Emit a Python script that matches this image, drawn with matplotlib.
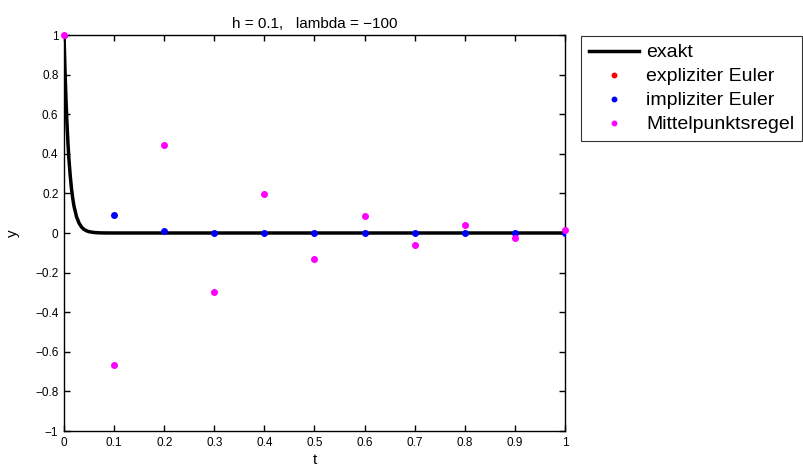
import matplotlib
matplotlib.use("Agg")
import matplotlib.pyplot as plt

plt.rcParams['font.family'] = ['Liberation Sans', 'DejaVu Sans']

# exact solution
t_exakt = [0.0, 0.002, 0.004, 0.006, 0.008, 0.01, 0.0125, 0.015, 0.0175, 0.02,
           0.025, 0.03, 0.035, 0.04, 0.045, 0.05, 0.06, 0.07, 0.08, 0.1, 0.2,
           0.4, 0.6, 0.8, 1.0]
y_exakt = [1.0, 0.819, 0.670, 0.549, 0.449, 0.368, 0.287, 0.223, 0.174, 0.135,
           0.082, 0.050, 0.030, 0.018, 0.011, 0.0067, 0.0025, 0.0009, 0.0003,
           0.0, 0.0, 0.0, 0.0, 0.0, 0.0]

t_pts = [0.0, 0.1, 0.2, 0.3, 0.4, 0.5, 0.6, 0.7, 0.8, 0.9, 1.0]
y_expl = [1.0, -9.0, 81.0, -729.0, 6561.0, -59049.0, 531441.0, -4782969.0,
          43046721.0, -387420489.0, 3486784401.0]
y_impl = [1.0, 0.091, 0.008, 0.001, 0.0001, 0.0, 0.0, 0.0, 0.0, 0.0, 0.0]
y_mitt = [1.0, -0.667, 0.444, -0.296, 0.198, -0.132, 0.088, -0.059, 0.039,
          -0.026, 0.017]

x_ticks = [0, 0.1, 0.2, 0.3, 0.4, 0.5, 0.6, 0.7, 0.8, 0.9, 1]
x_ticklabels = ['0', '0.1', '0.2', '0.3', '0.4', '0.5', '0.6', '0.7', '0.8', '0.9', '1']
y_ticks = [-1, -0.8, -0.6, -0.4, -0.2, 0, 0.2, 0.4, 0.6, 0.8, 1]
y_ticklabels = ['\u22121', '\u22120.8', '\u22120.6', '\u22120.4', '\u22120.2', '0',
                '0.2', '0.4', '0.6', '0.8', '1']

fig = plt.figure(figsize=(8.04, 4.69), dpi=100)
ax = fig.add_axes([64/804, 1 - 431/469, (565-64)/804, (431-35)/469])

ax.plot(t_exakt, y_exakt, color='black', linewidth=2.5, label='exakt', zorder=2)
ax.plot(t_pts, y_expl, linestyle='none', marker='o', markersize=4, color='red',
        label='expliziter Euler', zorder=3)
ax.plot(t_pts, y_impl, linestyle='none', marker='o', markersize=4, color='blue',
        label='impliziter Euler', zorder=4)
ax.plot(t_pts, y_mitt, linestyle='none', marker='o', markersize=4, color='magenta',
        label='Mittelpunktsregel', zorder=5, clip_on=False)

ax.set_xlim(0, 1)
ax.set_ylim(-1, 1)
ax.set_xticks(x_ticks)
ax.set_xticklabels(x_ticklabels)
ax.set_yticks(y_ticks)
ax.set_yticklabels(y_ticklabels)
ax.tick_params(direction='in', length=4, width=1, labelsize=8.5, top=True, right=True,
               pad=4)
for s in ax.spines.values():
    s.set_linewidth(1.0)

ax.set_xlabel('t', fontsize=11, labelpad=3)
ax.set_ylabel('y', fontsize=11, labelpad=11)
ax.set_title('h = 0.1,   lambda = \u2212100', fontsize=11, pad=5)

leg = fig.legend(loc='upper left', bbox_to_anchor=(581/804, 1 - 36/469),
                 fontsize=14, frameon=True, fancybox=False, edgecolor='black',
                 borderpad=0.4, labelspacing=0.33, handlelength=2.6,
                 handletextpad=0.35, borderaxespad=0, markerscale=0.8)
leg.get_frame().set_linewidth(0.8)

fig.savefig('out.png', dpi=100)
